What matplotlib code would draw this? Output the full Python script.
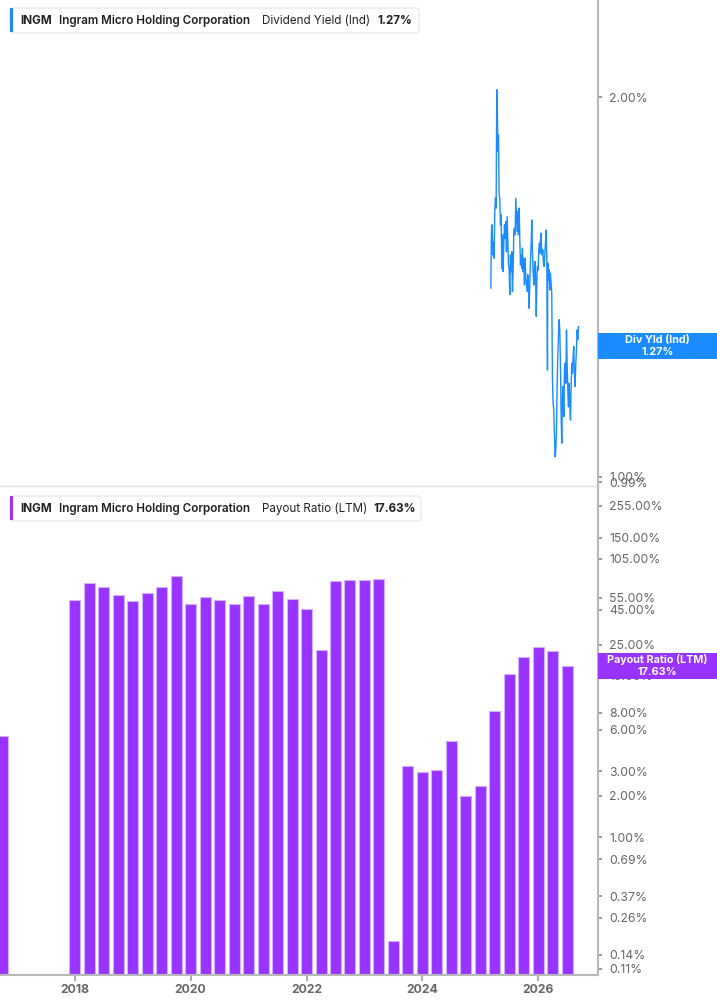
import matplotlib
matplotlib.use('Agg')
import matplotlib.pyplot as plt
from matplotlib.patches import Rectangle, FancyBboxPatch
from matplotlib.ticker import FixedLocator, NullLocator, FuncFormatter

plt.rcParams['font.family'] = ['Inter', 'DejaVu Sans']

W, H = 717, 1005

# Dividend Yield (Ind), in %, decimal-year dates
yield_dates = [
    2025.180, 2025.191, 2025.203, 2025.214, 2025.226, 2025.237, 2025.249, 2025.260,
    2025.272, 2025.283, 2025.295, 2025.301, 2025.312, 2025.324, 2025.335, 2025.347,
    2025.358, 2025.370, 2025.381, 2025.393, 2025.404, 2025.416, 2025.427, 2025.439,
    2025.450, 2025.462, 2025.473, 2025.485, 2025.496, 2025.508, 2025.519, 2025.531,
    2025.542, 2025.554, 2025.565, 2025.577, 2025.588, 2025.600, 2025.611, 2025.623,
    2025.634, 2025.646, 2025.657, 2025.669, 2025.680, 2025.692, 2025.703, 2025.715,
    2025.726, 2025.738, 2025.749, 2025.761, 2025.772, 2025.784, 2025.795, 2025.807,
    2025.818, 2025.830, 2025.841, 2025.853, 2025.864, 2025.876, 2025.887, 2025.899,
    2025.910, 2025.922, 2025.933, 2025.945, 2025.956, 2025.965,
    2025.974, 2025.985, 2025.997, 2026.008, 2026.020, 2026.031, 2026.043, 2026.054,
    2026.066, 2026.077, 2026.089, 2026.100, 2026.112, 2026.123, 2026.135, 2026.146,
    2026.158, 2026.163, 2026.175, 2026.186, 2026.198, 2026.209, 2026.221, 2026.232,
    2026.244, 2026.255, 2026.267, 2026.278, 2026.290, 2026.301, 2026.313, 2026.324,
    2026.336, 2026.347, 2026.359, 2026.370, 2026.382, 2026.393, 2026.405, 2026.416,
    2026.428, 2026.440, 2026.451, 2026.463, 2026.474, 2026.486, 2026.497, 2026.509,
    2026.520, 2026.532, 2026.543, 2026.555, 2026.566, 2026.578, 2026.589, 2026.601,
    2026.612, 2026.624, 2026.635, 2026.647, 2026.658, 2026.670, 2026.681, 2026.693,
]
yield_vals = [
    1.411, 1.565, 1.584, 1.499, 1.536, 1.490, 1.623, 1.663,
    1.633, 2.027, 1.925, 1.811, 1.867, 1.673, 1.663, 1.584,
    1.613, 1.463, 1.555, 1.454, 1.527, 1.584, 1.546, 1.593,
    1.508, 1.608, 1.536, 1.472, 1.463, 1.394, 1.499, 1.454,
    1.508, 1.402, 1.454, 1.565, 1.574, 1.555, 1.663, 1.613,
    1.565, 1.623, 1.555, 1.633, 1.546, 1.472, 1.499, 1.463,
    1.518, 1.454, 1.490, 1.419, 1.490, 1.437, 1.419, 1.402,
    1.446, 1.411, 1.360, 1.419, 1.481, 1.527, 1.598, 1.508,
    1.454, 1.419, 1.463, 1.481, 1.419, 1.340,
    1.432, 1.468, 1.459, 1.513, 1.532, 1.504, 1.560, 1.522,
    1.499, 1.513, 1.477, 1.468, 1.504, 1.532, 1.569, 1.495,
    1.215, 1.477, 1.432, 1.459, 1.406, 1.450, 1.424, 1.398,
    1.193, 1.144, 1.130, 1.076, 1.037, 1.050, 1.089, 1.172,
    1.245, 1.291, 1.332, 1.307, 1.230, 1.123, 1.063, 1.157,
    1.179, 1.116, 1.215, 1.230, 1.186, 1.307, 1.230, 1.172,
    1.136, 1.186, 1.144, 1.109, 1.179, 1.230, 1.208, 1.245,
    1.268, 1.200, 1.179, 1.230, 1.261, 1.307, 1.284, 1.315,
]

# Payout Ratio (LTM), in %, quarterly
payout_dates = [
    2016.75, 2018.0, 2018.25, 2018.5, 2018.75, 2019.0, 2019.25, 2019.5, 2019.75,
    2020.0, 2020.25, 2020.5, 2020.75, 2021.0, 2021.25, 2021.5, 2021.75,
    2022.0, 2022.25, 2022.5, 2022.75, 2023.0, 2023.25, 2023.5, 2023.75,
    2024.0, 2024.25, 2024.5, 2024.75, 2025.0, 2025.25, 2025.5, 2025.75,
    2026.0, 2026.25, 2026.5,
]
payout_vals = [
    5.38, 53.0, 70.2, 65.3, 57.4, 51.9, 59.3, 65.6, 78.5,
    49.6, 55.7, 52.5, 49.6, 56.4, 49.1, 61.1, 53.6,
    45.4, 22.9, 72.6, 73.5, 73.8, 75.1, 0.167, 3.29,
    2.98, 3.08, 4.95, 1.97, 2.33, 8.29, 15.2, 20.5,
    24.0, 22.4, 17.63,
]

yield_ticks = [2.0, 1.0, 0.99]
payout_ticks = [255, 150, 105, 55, 45, 25, 15, 8, 6, 3, 2, 1, 0.69, 0.37, 0.26, 0.14, 0.11]
year_ticks = [2018, 2020, 2022, 2024, 2026]

symbol = 'INGM'
company = 'Ingram Micro Holding Corporation'
yield_name, yield_last = 'Dividend Yield (Ind)', 1.27
payout_name, payout_last = 'Payout Ratio (LTM)', 17.63

BLUE = '#1a8cff'
PURPLE = '#9933ff'
SPINE = '#b8b8b8'


def fx(px):
    return px / W


def fy(py):
    return 1 - py / H


pct = FuncFormatter(lambda v, p: f'{v:.2f}%')

fig = plt.figure(figsize=(W / 100, H / 100), dpi=100)
ax1 = fig.add_axes([0, fy(486), fx(598), 486 / H])
ax2 = fig.add_axes([0, fy(974.5), fx(598), (974.5 - 487) / H])

ax1.plot(yield_dates, yield_vals, color=BLUE, lw=1.0)
ax2.bar(payout_dates, payout_vals, width=0.19, bottom=0.01, color=PURPLE,
        edgecolor='#d2b0ff', linewidth=0.8)

for ax in (ax1, ax2):
    ax.set_xlim(2016.71, 2027.03)
    ax.set_yscale('log')
    ax.yaxis.tick_right()
    ax.yaxis.set_minor_locator(NullLocator())
    ax.yaxis.set_major_formatter(pct)
    ax.tick_params(axis='y', which='major', length=3, width=1.2, color='#888888',
                   labelsize=8.8, labelcolor='#666666', pad=5)
    for s in ('left', 'top'):
        ax.spines[s].set_visible(False)
    ax.spines['right'].set_color(SPINE)
    ax.spines['right'].set_linewidth(1.5)
    ax.set_facecolor('none')

ax1.set_ylim(0.983, 2.388)
ax1.yaxis.set_major_locator(FixedLocator(yield_ticks))
ax1.set_xticks([])
ax1.spines['bottom'].set_color('#e0e0e0')
ax1.spines['bottom'].set_linewidth(1)

ax2.set_ylim(0.1003, 350)
ax2.yaxis.set_major_locator(FixedLocator(payout_ticks))
ax2.set_xticks(year_ticks)
ax2.set_xticklabels([str(y) for y in year_ticks], fontweight='bold')
ax2.tick_params(axis='x', length=4, width=1.5, color='#aaaaaa', labelsize=8.8,
                labelcolor='#666666', pad=3)
ax2.spines['bottom'].set_color(SPINE)
ax2.spines['bottom'].set_linewidth(1.5)


def value_box(ax, value, text, color):
    ydisp = ax.transData.transform((2020, value))[1]
    yf = fig.transFigure.inverted().transform((0, ydisp))[1]
    fig.add_artist(Rectangle((fx(598), yf - 13 / H), fx(119), 26 / H, transform=fig.transFigure,
                             facecolor=color, edgecolor='none', zorder=5))
    fig.text(fx(657.5), yf, text, ha='center', va='center', color='white', fontsize=7.8,
             fontweight='bold', linespacing=1.2, zorder=6)


value_box(ax1, yield_last, f'Div Yld (Ind)\n{yield_last:.2f}%', BLUE)
value_box(ax2, payout_last, f'{payout_name}\n{payout_last:.2f}%', PURPLE)


def legend(ytop, width, color, name, last, xlast):
    fig.add_artist(FancyBboxPatch((fx(10), fy(ytop + 25)), fx(width), 25 / H,
                                  boxstyle='round,pad=0,rounding_size=0.004',
                                  transform=fig.transFigure, facecolor='white',
                                  edgecolor='#e4e4e4', linewidth=0.8, zorder=5))
    fig.add_artist(Rectangle((fx(10), fy(ytop + 24.5)), fx(3), 24 / H, transform=fig.transFigure,
                             facecolor=color, edgecolor='none', zorder=6))
    yc = fy(ytop + 13)
    kw = dict(va='center', ha='left', fontsize=8.4, color='#222222', zorder=7)
    fig.text(fx(20), yc, symbol, fontweight='bold', **kw)
    fig.text(fx(59), yc, company, fontweight='semibold', **kw)
    fig.text(fx(262), yc, name, fontweight='normal', **kw)
    fig.text(fx(xlast), yc, f'{last:.2f}%', fontweight='bold', **kw)


legend(8, 409, BLUE, yield_name, yield_last, 377)
legend(496, 411, PURPLE, payout_name, payout_last, 373)

fig.savefig('out.png', dpi=100)
